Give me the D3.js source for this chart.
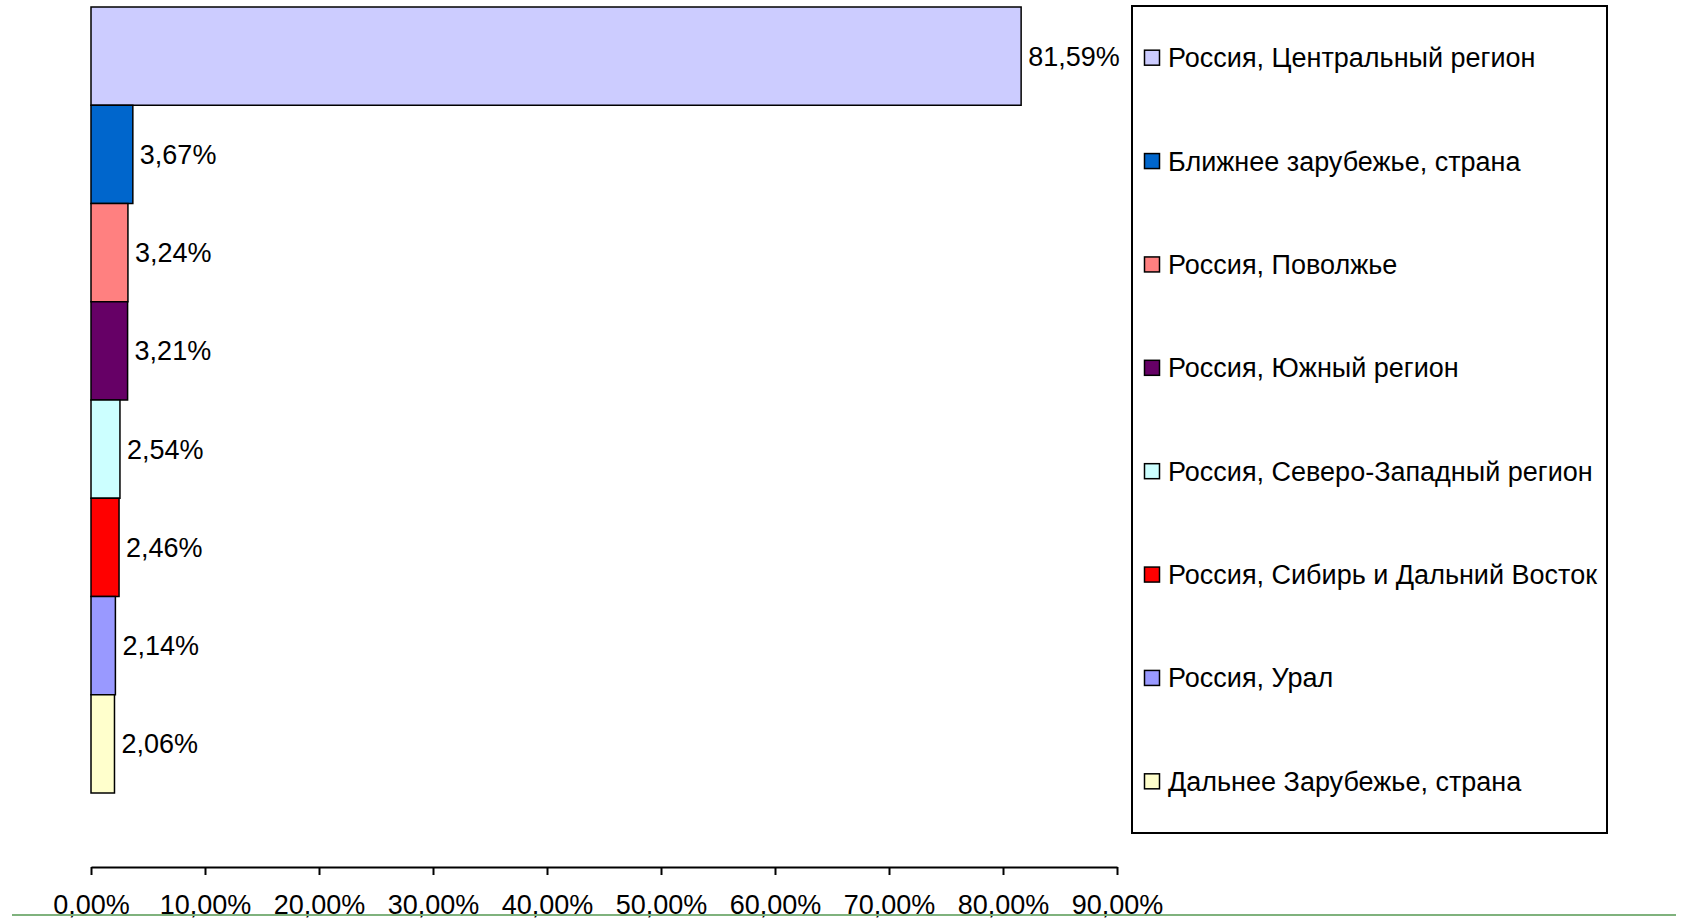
<!DOCTYPE html>
<html>
<head>
<meta charset="utf-8">
<script src="https://cdn.jsdelivr.net/npm/d3@7"></script>
<style>
  html, body { margin: 0; padding: 0; background: #fff; }
  svg { display: block; font-family: "Liberation Sans", Arial, sans-serif; }
</style>
</head>
<body>
<div id="chart"></div>
<script>
/* ===== data ===== */
const regions = [
  'Россия, Центральный регион',
  'Ближнее зарубежье, страна',
  'Россия, Поволжье',
  'Россия, Южный регион',
  'Россия, Северо-Западный регион',
  'Россия, Сибирь и Дальний Восток',
  'Россия, Урал',
  'Дальнее Зарубежье, страна'
];
const shares = [81.59, 3.67, 3.24, 3.21, 2.54, 2.46, 2.14, 2.06];
const colors = ['#ccccff', '#0066cc', '#ff8080', '#660066', '#ccffff', '#ff0000', '#9999ff', '#ffffcc'];
const xTicks = [0, 10, 20, 30, 40, 50, 60, 70, 80, 90];

const fmtPct = v => v.toFixed(2).replace('.', ',') + '%';

/* ---- chart ---- */
const width = 1683, height = 919;
const svg = d3.select('#chart').append('svg')
  .attr('width', width)
  .attr('height', height);

const x = d3.scaleLinear().domain([0, 90]).range([91, 1117]);
const y = d3.scaleBand().domain(regions).range([7, 793]).padding(0);

const data = regions.map((r, i) => ({ region: r, value: shares[i], color: colors[i] }));

// Bars
svg.selectAll('.bar')
  .data(data)
  .join('rect')
  .attr('class', 'bar')
  .attr('x', x(0))
  .attr('y', d => y(d.region))
  .attr('width', d => x(d.value) - x(0))
  .attr('height', y.bandwidth())
  .attr('fill', d => d.color)
  .attr('stroke', '#000')
  .attr('stroke-width', 1.5);

// Value labels
svg.selectAll('.bar-value')
  .data(data)
  .join('text')
  .attr('class', 'bar-value')
  .attr('x', d => x(d.value) + 7)
  .attr('y', d => y(d.region) + y.bandwidth() / 2)
  .attr('dy', '0.35em')
  .attr('fill', '#000')
  .attr('font-size', '27px')
  .text(d => fmtPct(d.value));

// X axis
const axisY = 867;
const xAxis = svg.append('g')
  .attr('transform', `translate(0,${axisY})`)
  .call(d3.axisBottom(x).tickValues(xTicks).tickSize(8).tickSizeOuter(0).tickFormat(fmtPct));
xAxis.select('.domain').attr('stroke', '#000').attr('stroke-width', 2);
xAxis.selectAll('.tick line').attr('stroke', '#000').attr('stroke-width', 2);
xAxis.selectAll('.tick text')
  .attr('y', 47)
  .attr('dy', 0)
  .attr('fill', '#000')
  .attr('font-size', '27px')
  .attr('font-family', '"Liberation Sans", Arial, sans-serif');

// Legend
const legend = { x: 1132, y: 6, w: 475, h: 827 };
svg.append('rect')
  .attr('x', legend.x)
  .attr('y', legend.y)
  .attr('width', legend.w)
  .attr('height', legend.h)
  .attr('fill', '#fff')
  .attr('stroke', '#000')
  .attr('stroke-width', 2);

const ly = d3.scaleBand().domain(regions).range([legend.y, legend.y + legend.h]);

const items = svg.selectAll('.legend-item')
  .data(data)
  .join('g')
  .attr('class', 'legend-item')
  .attr('transform', d => `translate(${legend.x},${ly(d.region) + ly.bandwidth() / 2})`);

items.append('rect')
  .attr('x', 12.5)
  .attr('y', -7.5)
  .attr('width', 15)
  .attr('height', 15)
  .attr('fill', d => d.color)
  .attr('stroke', '#000')
  .attr('stroke-width', 1.5);

items.append('text')
  .attr('x', 36)
  .attr('dy', '0.35em')
  .attr('fill', '#000')
  .attr('font-size', '27px')
  .text(d => d.region);

// Green rule at the bottom
svg.append('line')
  .attr('x1', 12).attr('x2', 1676)
  .attr('y1', 915).attr('y2', 915)
  .attr('stroke', '#7fb27d')
  .attr('stroke-width', 2);
</script>
</body>
</html>
